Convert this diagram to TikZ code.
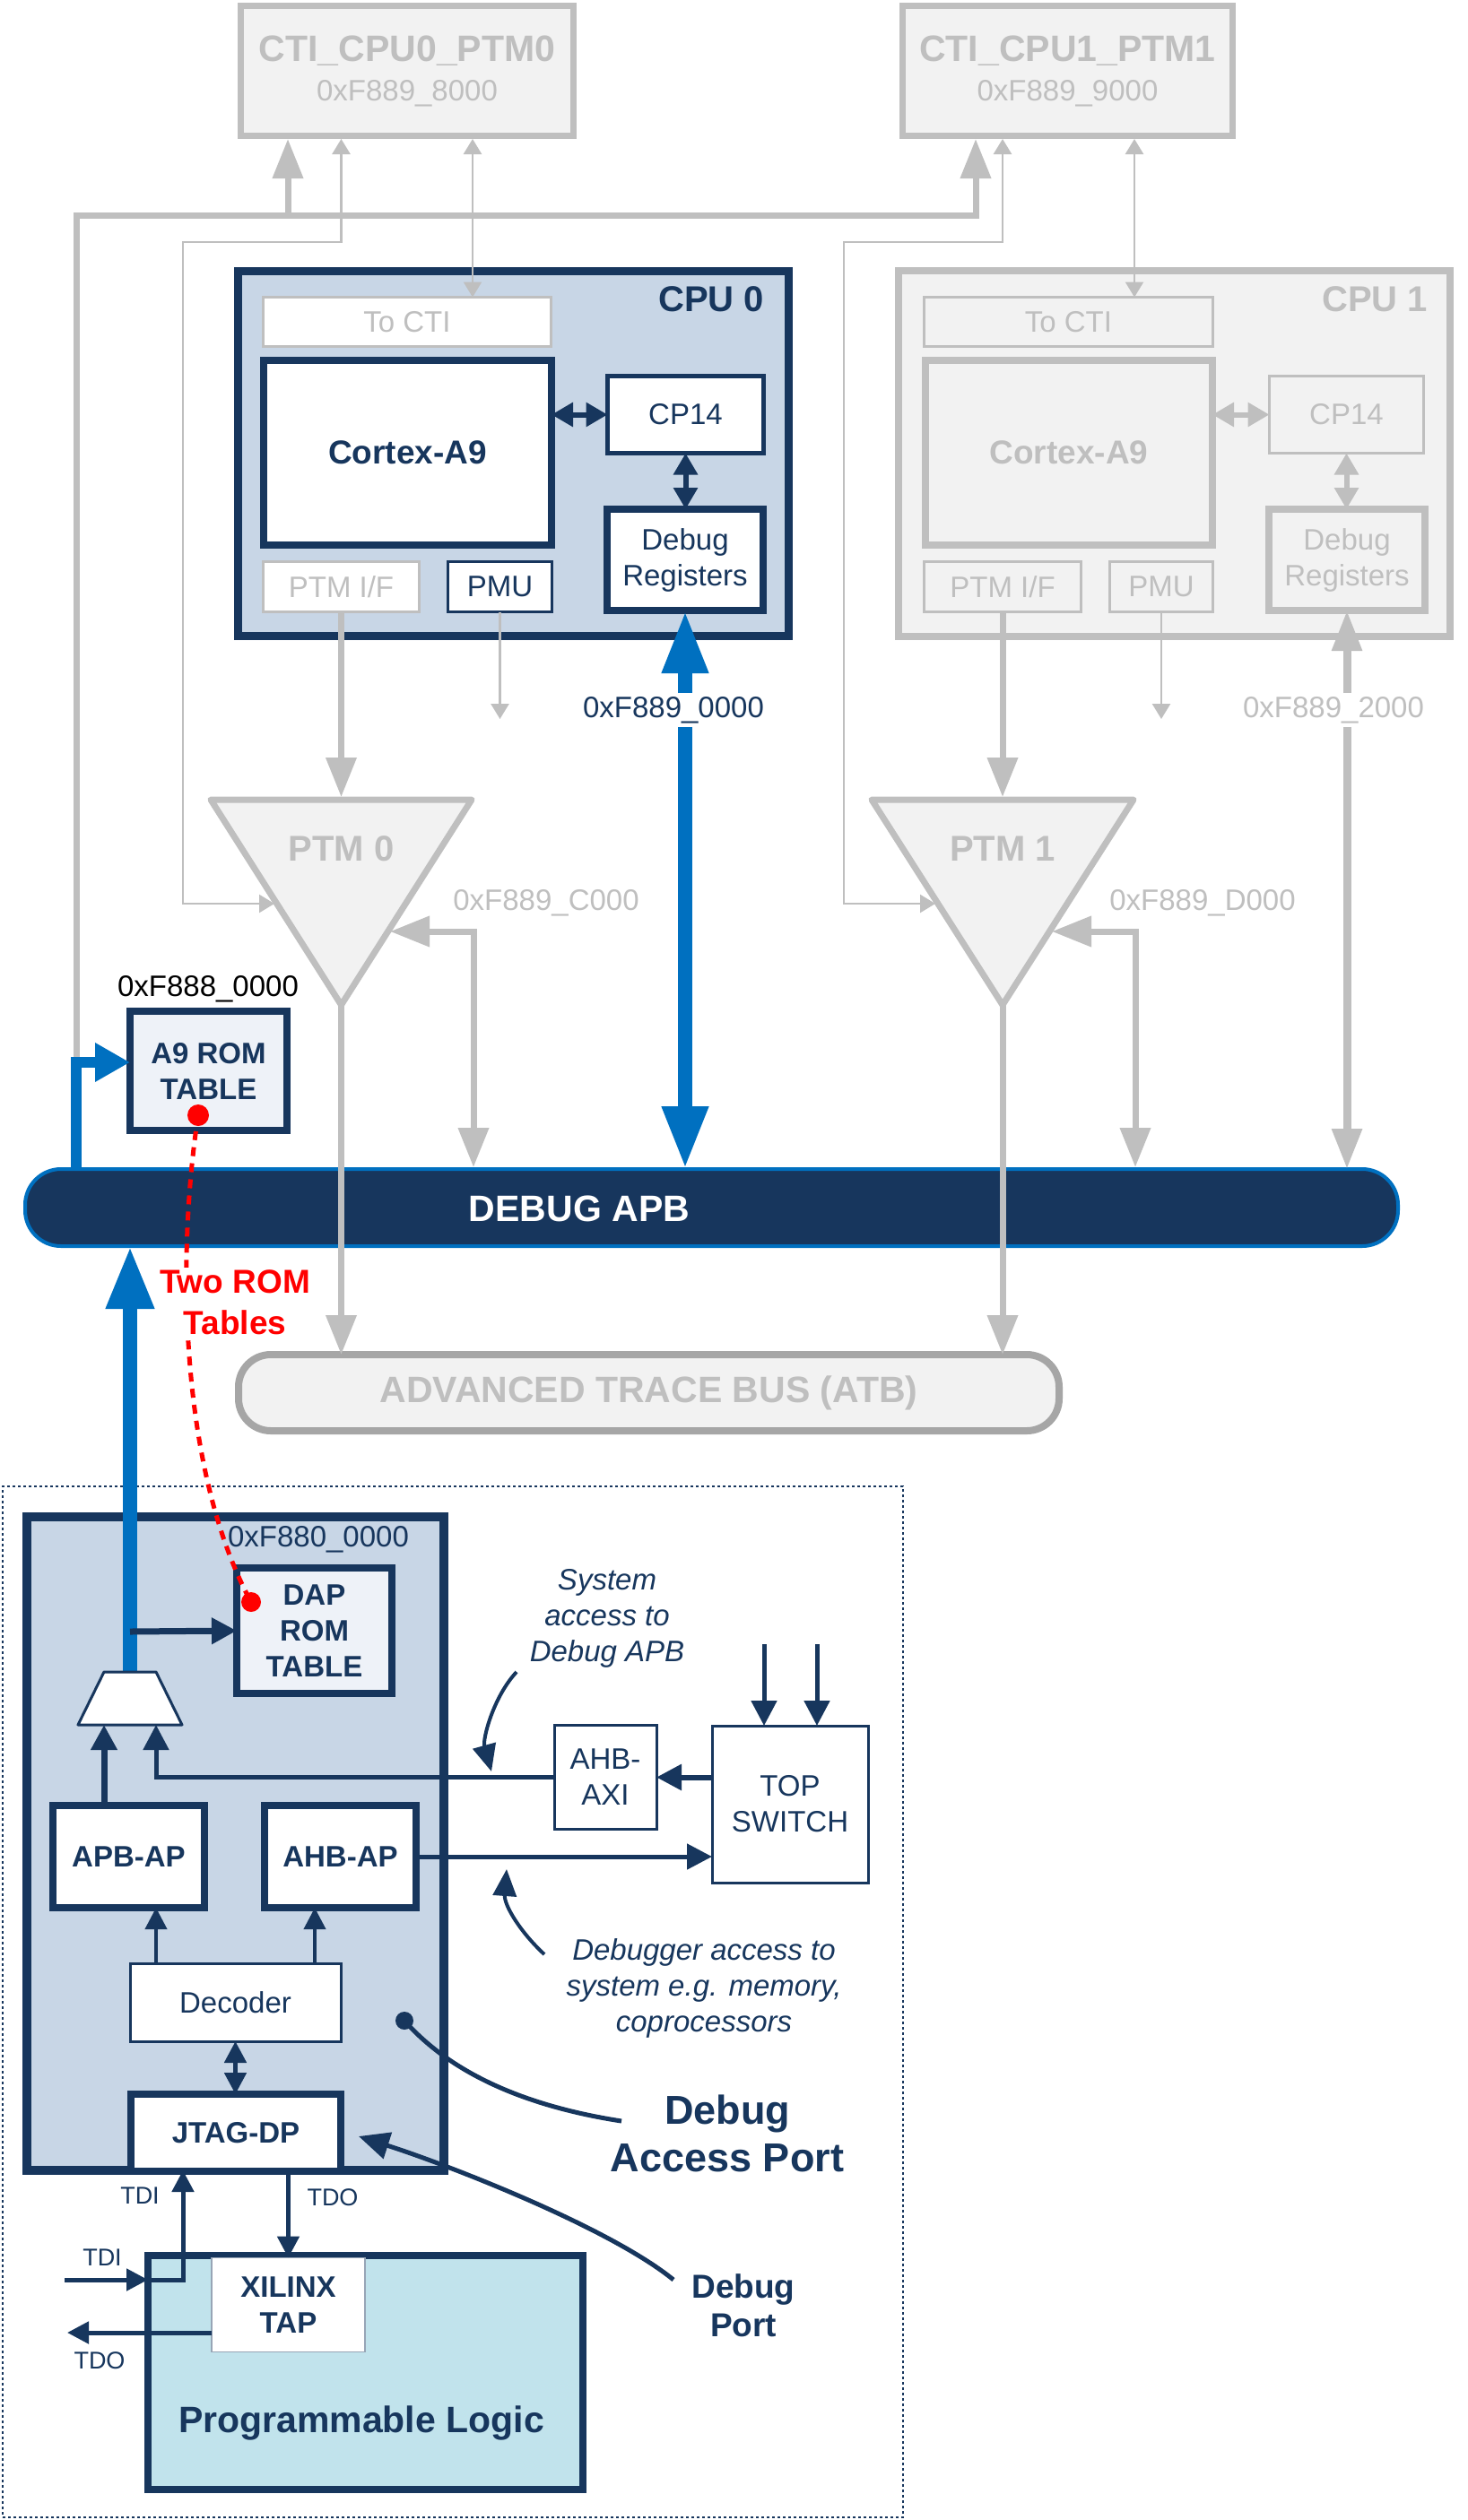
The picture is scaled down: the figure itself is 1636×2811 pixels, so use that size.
\documentclass[tikz,border=0pt]{standalone}
\usepackage{fontspec}
\setmainfont{Liberation Sans}
\usetikzlibrary{arrows.meta,calc}
\definecolor{navy}{HTML}{17365D}
\definecolor{cpufill}{HTML}{C8D6E6}
\definecolor{lgray}{HTML}{BFBFBF}
\definecolor{gfill}{HTML}{F2F2F2}
\definecolor{atbgray}{HTML}{A6A6A6}
\definecolor{armblue}{HTML}{0070C0}
\definecolor{romfill}{HTML}{EEF2F8}
\definecolor{plfill}{HTML}{C1E3EC}
\begin{document}
\begin{tikzpicture}[x=1pt,y=-1pt,
  box/.style={draw, inner sep=0pt, outer sep=0pt, align=center},
  txt/.style={inner sep=0pt, outer sep=0pt, align=center},
  fn/.style={font=\fontsize{33pt}{40pt}\selectfont},
  fb/.style={font=\bfseries\fontsize{33pt}{40pt}\selectfont},
  fi/.style={font=\itshape\fontsize{33pt}{40pt}\selectfont},
  fbig/.style={font=\bfseries\fontsize{41pt}{48pt}\selectfont},
  fcpu/.style={font=\bfseries\fontsize{40pt}{48pt}\selectfont},
  fmid/.style={font=\bfseries\fontsize{37pt}{46pt}\selectfont},
  fsm/.style={font=\fontsize{27pt}{32pt}\selectfont},
  gthick/.style={draw=lgray, line width=7pt},
  gthin/.style={draw=lgray, line width=2.5pt},
  bigG/.tip={Triangle[length=44pt,width=33pt]},
  smG/.tip={Triangle[length=17pt,width=20pt]},
  inN/.tip={Triangle[length=24pt,width=26pt]},
  nav/.tip={Triangle[length=28pt,width=28pt]},
  tinyN/.tip={Triangle[length=24pt,width=24pt]},
  bigB/.tip={Triangle[length=70pt,width=48pt]}
]
\useasboundingbox (0,0) rectangle (1636,2811);
\fill[white] (0,0) rectangle (1636,2811);

% ---------------- CTI boxes
\node[box, draw=lgray, fill=gfill, line width=7pt, minimum width=371pt, minimum height=145pt] (cti0) at (454,79) {};
\node[txt, fbig, text=lgray] (cti0a) at (454,57) {CTI\_CPU0\_PTM0};
\node[txt, fn, text=lgray] (cti0b) at (454,104) {0xF889\_8000};
\node[box, draw=lgray, fill=gfill, line width=7pt, minimum width=368pt, minimum height=145pt] (cti1) at (1190.5,79) {};
\node[txt, fbig, text=lgray] (cti1a) at (1190.5,57) {CTI\_CPU1\_PTM1};
\node[txt, fn, text=lgray] (cti1b) at (1190.5,104) {0xF889\_9000};

% ---------------- CPU 0
\node[box, draw=navy, fill=cpufill, line width=9pt, minimum width=614pt, minimum height=407pt] (cpu0) at (572.5,506) {};
\node[txt, fcpu, text=navy, anchor=east] (cpu0t) at (852,334) {CPU 0};
\node[box, draw=lgray, fill=white, line width=3pt, minimum width=321pt, minimum height=55pt, fn, text=lgray] (toc0) at (454,359) {To CTI};
\node[box, draw=navy, fill=white, line width=8pt, minimum width=321pt, minimum height=206pt, font=\bfseries\fontsize{37pt}{44pt}\selectfont, text=navy] (cor0) at (454.5,505) {Cortex-A9};
\node[box, draw=navy, fill=white, line width=5pt, minimum width=174pt, minimum height=86pt, fn, text=navy] (cp0) at (764.5,462.5) {CP14};
\node[box, draw=navy, fill=white, line width=8pt, minimum width=174pt, minimum height=113pt, fn, text=navy] (dr0) at (764,624.5) {Debug\\Registers};
\node[box, draw=lgray, fill=white, line width=3pt, minimum width=174pt, minimum height=56pt, fn, text=lgray] (pif0) at (380.5,654.5) {PTM I/F};
\node[box, draw=navy, fill=white, line width=3pt, minimum width=116pt, minimum height=56pt, fn, text=navy] (pmu0) at (557.5,654.5) {PMU};
\draw[navy, line width=6pt, {inN}-{inN}] (cor0.east |- cp0.west) -- (cp0.west);
\draw[navy, line width=6pt, {inN}-{inN}] (cp0.south) -- (cp0.south |- dr0.north);

% ---------------- CPU 1
\node[box, draw=lgray, fill=gfill, line width=8pt, minimum width=615pt, minimum height=408pt] (cpu1) at (1309.5,506) {};
\node[txt, fcpu, text=lgray, anchor=east] (cpu1t) at (1592,334) {CPU 1};
\node[box, draw=lgray, fill=gfill, line width=3pt, minimum width=322pt, minimum height=55pt, fn, text=lgray] (toc1) at (1191.5,359) {To CTI};
\node[box, draw=lgray, fill=gfill, line width=8pt, minimum width=320pt, minimum height=206pt, font=\bfseries\fontsize{37pt}{44pt}\selectfont, text=lgray] (cor1) at (1192,505) {Cortex-A9};
\node[box, draw=lgray, fill=gfill, line width=3pt, minimum width=172pt, minimum height=86pt, fn, text=lgray] (cp1) at (1501.5,462.5) {CP14};
\node[box, draw=lgray, fill=gfill, line width=8pt, minimum width=174pt, minimum height=113pt, fn, text=lgray] (dr1) at (1502,624.5) {Debug\\Registers};
\node[box, draw=lgray, fill=gfill, line width=3pt, minimum width=175pt, minimum height=56pt, fn, text=lgray] (pif1) at (1118,654.5) {PTM I/F};
\node[box, draw=lgray, fill=gfill, line width=3pt, minimum width=115pt, minimum height=56pt, fn, text=lgray] (pmu1) at (1295,654.5) {PMU};
\draw[lgray, line width=6pt, {inN}-{inN}] (cor1.east |- cp1.west) -- (cp1.west);
\draw[lgray, line width=6pt, {inN}-{inN}] (cp1.south) -- (cp1.south |- dr1.north);

% ---------------- CTI connections
\coordinate (gbL) at (85,1185);
\coordinate (gbR) at (1088,240);
\coordinate (c1in) at (1088,155);
\coordinate (c0j) at (321,240);
\coordinate (c0in) at (321,155);
\draw[gthick, -{bigG}] (gbL) |- (gbR) -- (c1in);
\draw[gthick, -{bigG}] (c0j) -- (c0in);

\coordinate (c0x) at (527,155);
\coordinate (c1x) at (1265,155);
\draw[gthin, {smG}-{smG}] (c0x) -- (c0x |- toc0.north);
\draw[gthin, {smG}-{smG}] (c1x) -- (c1x |- toc1.north);

% PTM triangles
\coordinate (p0a) at (235,892);
\coordinate (p0b) at (526,892);
\coordinate (p0c) at (380.5,1121);
\coordinate (p0top) at (380.5,889);
\coordinate (ptm0l) at (306,1008);
\coordinate (ptm0r) at (435,1039);
\coordinate (p1a) at (972,892);
\coordinate (p1b) at (1264,892);
\coordinate (p1c) at (1118,1121);
\coordinate (p1top) at (1118,889);
\coordinate (ptm1l) at (1043,1008);
\coordinate (ptm1r) at (1173,1039);

\coordinate (t0a) at (204,270);
\coordinate (c0in2) at (380.5,155);
\coordinate (t1a) at (941,270);
\coordinate (c1in2) at (1118,155);
\draw[gthin, {smG}-{smG}] (ptm0l) -| (t0a) -| (c0in2);
\draw[gthin, {smG}-{smG}] (ptm1l) -| (t1a) -| (c1in2);

\draw[gthick, -{bigG}] (pif0.south) -- (p0top);
\draw[gthick, -{bigG}] (pif1.south) -- (p1top);
\coordinate (pm0e) at (557.5,802);
\coordinate (pm1e) at (1295,802);
\draw[gthin, -{smG}] (pmu0.south) -- (pm0e);
\draw[gthin, -{smG}] (pmu1.south) -- (pm1e);

\draw[lgray, line width=7pt, fill=gfill, line join=round] (p0a) -- (p0b) -- (p0c) -- cycle;
\draw[lgray, line width=7pt, fill=gfill, line join=round] (p1a) -- (p1b) -- (p1c) -- cycle;
\node[txt, fcpu, text=lgray] (ptm0t) at (380.5,947) {PTM 0};
\node[txt, fcpu, text=lgray] (ptm1t) at (1118,947) {PTM 1};

% ---------------- buses
\node[box, draw=armblue, fill=navy, line width=4pt, rounded corners=40pt, minimum width=1531pt, minimum height=86pt] (apb) at (793.5,1347) {};
\node[txt, fbig, text=white] (apbt) at (646,1348) {DEBUG APB};
\node[box, draw=atbgray, fill=gfill, line width=8pt, rounded corners=36pt, minimum width=915pt, minimum height=85pt, fbig, text=lgray] (atb) at (723.5,1553.5) {ADVANCED TRACE BUS (ATB)};

\draw[gthick, -{bigG}] (p0c) -- (p0c |- atb.north);
\draw[gthick, -{bigG}] (p1c) -- (p1c |- atb.north);
\coordinate (r0b) at (528,1302);
\coordinate (r1b) at (1266,1302);
\draw[gthick, {bigG}-{bigG}] (ptm0r) -| (r0b);
\draw[gthick, {bigG}-{bigG}] (ptm1r) -| (r1b);
\node[txt, fn, text=lgray] (a0c) at (609,1007) {0xF889\_C000};
\node[txt, fn, text=lgray] (a1d) at (1341,1007) {0xF889\_D000};

% CPU0 debug register access
\node[txt, fn, text=navy, inner sep=4pt] (lab0) at (751,792) {0xF889\_0000};
\draw[armblue, line width=16pt, -{bigB}] (dr0.south |- lab0.north) -- (dr0.south);
\draw[armblue, line width=16pt, -{bigB}] (dr0.south |- lab0.south) -- (dr0.south |- apb.north);
% CPU1 debug register access
\node[txt, fn, text=lgray, inner sep=4pt] (lab1) at (1487,792) {0xF889\_2000};
\draw[lgray, line width=9pt, -{Triangle[length=45pt,width=32pt]}] (dr1.south |- lab1.north) -- (dr1.south);
\draw[lgray, line width=9pt, -{Triangle[length=45pt,width=32pt]}] (dr1.south |- lab1.south) -- (dr1.south |- apb.north);

% A9 ROM table
\node[txt, fn, text=black] (a9addr) at (232,1103) {0xF888\_0000};
\node[box, draw=navy, fill=romfill, line width=8pt, minimum width=175pt, minimum height=133pt, fb, text=navy] (a9) at (232.5,1194.5) {A9 ROM\\TABLE};
\draw[armblue, line width=12pt, -{Triangle[length=39pt,width=41pt]}] (gbL |- apb.north) -- (gbL) -- (gbL -| a9.west);

% ---------------- lower frame
\node[draw=navy, line width=2.5pt, dash pattern=on 3pt off 3pt, inner sep=0pt, minimum width=1004pt, minimum height=1150pt] (frame) at (505,2233) {};
\node[box, draw=navy, fill=cpufill, line width=10pt, minimum width=465pt, minimum height=729pt] (dap) at (262.5,2056.5) {};
\node[txt, fn, text=navy] (dapaddr) at (355,1717) {0xF880\_0000};
\node[box, draw=navy, fill=romfill, line width=8pt, minimum width=173pt, minimum height=140pt, fb, text=navy] (daprom) at (350.5,1819) {DAP\\ROM\\TABLE};

% mux
\coordinate (m1) at (87,1924);
\coordinate (m2) at (116,1865);
\coordinate (m3) at (174,1865);
\coordinate (m4) at (203,1924);
\coordinate (muxtop) at (145,1865);
\coordinate (mi1) at (116,1924);
\coordinate (mi2) at (174,1924);
\coordinate (jrom) at (145,1820);
\draw[armblue, line width=16pt, -{Triangle[length=70pt,width=50pt]}] (muxtop) -- (muxtop |- apb.south);
\draw[navy, line width=7pt, -{nav}] (jrom) -- (daprom.west);
\draw[navy, line width=3pt, fill=white, line join=round] (m1) -- (m2) -- (m3) -- (m4) -- cycle;

\node[box, draw=navy, fill=white, line width=8pt, minimum width=169pt, minimum height=114pt, fb, text=navy] (apbap) at (143.5,2071) {APB-AP};
\node[box, draw=navy, fill=white, line width=8pt, minimum width=169pt, minimum height=114pt, fb, text=navy] (ahbap) at (379.5,2071) {AHB-AP};
\node[box, draw=navy, fill=white, line width=3pt, minimum width=235pt, minimum height=87pt, fn, text=navy] (dec) at (262.5,2233.5) {Decoder};
\node[box, draw=navy, fill=white, line width=8pt, minimum width=234pt, minimum height=86pt, fb, text=navy] (jtag) at (263,2379) {JTAG-DP};
\node[box, draw=navy, fill=white, line width=3pt, minimum width=114pt, minimum height=116pt, fn, text=navy] (ahbaxi) at (675,1982.5) {AHB-\\AXI};
\node[box, draw=navy, fill=white, line width=3pt, minimum width=174pt, minimum height=175pt, fn, text=navy] (topsw) at (881,2012.5) {TOP\\SWITCH};

\draw[navy, line width=7pt, -{nav}] (apbap.north -| mi1) -- (mi1);
\draw[navy, line width=5pt, -{nav}] (ahbaxi.west) -| (mi2);
\draw[navy, line width=6pt, -{nav}] (topsw.west |- ahbaxi.east) -- (ahbaxi.east);
\draw[navy, line width=5pt, -{nav}] (ahbap.east) -- (ahbap.east -| topsw.west);
\coordinate (ts1) at (852,1834);
\coordinate (ts2) at (911,1834);
\draw[navy, line width=5pt, -{nav}] (ts1) -- (ts1 |- topsw.north);
\draw[navy, line width=5pt, -{nav}] (ts2) -- (ts2 |- topsw.north);
\coordinate (d1) at (174,2189);
\coordinate (d2) at (351,2189);
\draw[navy, line width=4pt, -{tinyN}] (d1) -- (d1 |- apbap.south);
\draw[navy, line width=4pt, -{tinyN}] (d2) -- (d2 |- ahbap.south);
\draw[navy, line width=5pt, {tinyN}-{tinyN}] (dec.south) -- (dec.south |- jtag.north);

% programmable logic
\node[box, draw=navy, fill=plfill, line width=8pt, minimum width=485pt, minimum height=261pt] (pl) at (407.5,2646.5) {};
\node[txt, fbig, text=navy] (plt) at (403,2703) {Programmable Logic};
\node[box, draw=navy!45, fill=white, line width=1.5pt, minimum width=171pt, minimum height=105pt, fb, text=navy] (xtap) at (321.5,2571) {XILINX\\TAP};

\coordinate (tdiin) at (72,2543);
\coordinate (tdic) at (204,2543);
\coordinate (tdoout) at (75,2602);
\draw[navy, line width=5pt, -{tinyN}] (tdiin) -- (pl.west |- tdiin);
\draw[navy, line width=5pt, -{tinyN}] (pl.west |- tdiin) -- (tdic) -- (tdic |- dap.south);
\draw[navy, line width=5pt, -{tinyN}] (xtap.north |- jtag.south) -- (xtap.north);
\draw[navy, line width=5pt, -{tinyN}] (xtap.west |- tdoout) -- (tdoout);
\node[txt, fsm, text=navy] (tdi1) at (156,2449) {TDI};
\node[txt, fsm, text=navy] (tdo1) at (371,2451) {TDO};
\node[txt, fsm, text=navy] (tdi2) at (114,2518) {TDI};
\node[txt, fsm, text=navy] (tdo2) at (111,2633) {TDO};

% annotations
\node[txt, fi, text=navy] (sysacc) at (677,1805) {System\\access to\\Debug APB};
\coordinate (sa1) at (576,1865);
\coordinate (sa2) at (548,1976);
\draw[navy, line width=4pt, -{Triangle[length=30pt,width=26pt]}] (sa1) .. controls (550,1893) and (538,1940) .. (sa2);
\node[txt, fi, text=navy] (dbgacc) at (785,2218) {Debugger access to\\system e.g. memory,\\coprocessors};
\coordinate (da1) at (607,2180);
\coordinate (da2) at (565,2085);
\draw[navy, line width=4pt, -{Triangle[length=30pt,width=26pt]}] (da1) .. controls (580,2155) and (562,2125) .. (da2);

\coordinate (dapdot) at (451,2254);
\coordinate (dapend) at (693,2366);
\fill[navy] (dapdot) circle (10pt);
\draw[navy, line width=5pt] (dapdot) .. controls (505,2315) and (590,2350) .. (dapend);
\node[txt, font=\bfseries\fontsize{45pt}{53pt}\selectfont, text=navy] (dapl) at (811,2380) {Debug\\Access Port};

\coordinate (dp1) at (751,2543);
\coordinate (dp2) at (400,2383);
\draw[navy, line width=5pt, -{Triangle[length=34pt,width=30pt]}] (dp1) .. controls (680,2485) and (500,2415) .. (dp2);
\node[txt, font=\bfseries\fontsize{37pt}{43pt}\selectfont, text=navy] (dpl) at (829,2572) {Debug\\Port};

% red: two ROM tables
\coordinate (a9dot) at (221,1244);
\coordinate (dapdot2) at (280,1787);
\draw[red, line width=5pt, dash pattern=on 10pt off 8pt] (a9dot) .. controls (197,1400) and (200,1640) .. (dapdot2);
\fill[red] (a9dot) circle (12pt);
\fill[red] (dapdot2) circle (11pt);
\node[txt, fmid, text=red, fill=white, inner sep=3pt] (two) at (262,1453) {Two ROM\\Tables};
\end{tikzpicture}
\end{document}
